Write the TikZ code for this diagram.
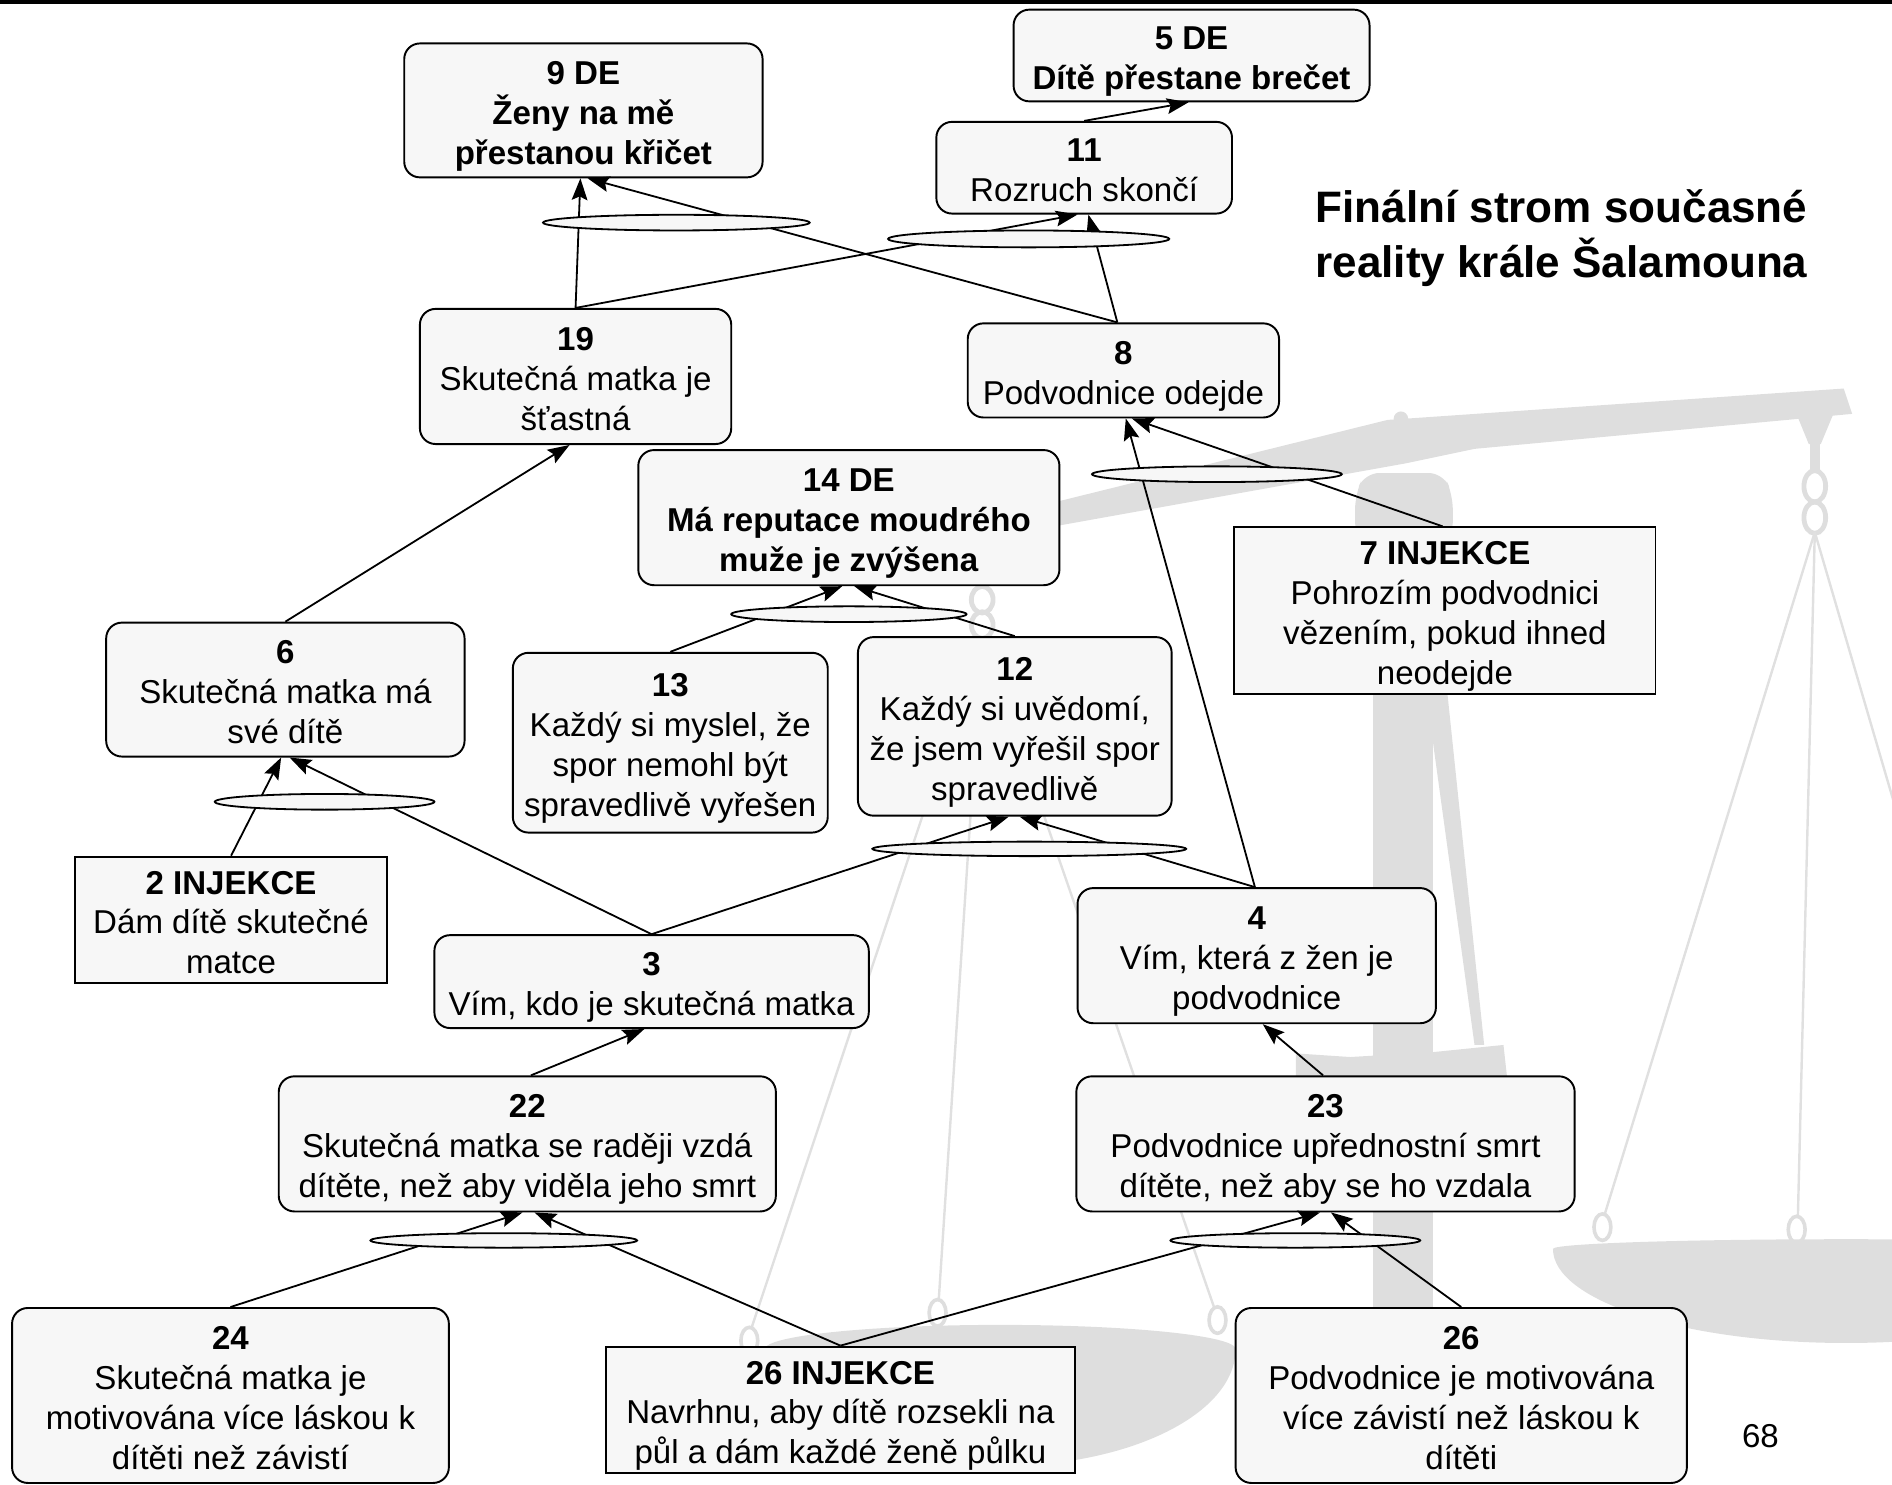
\documentclass[tikz,border=0pt]{standalone}
\usepackage{fontspec}
\setmainfont{Liberation Sans}
\usetikzlibrary{arrows.meta,calc,shapes.geometric}
\definecolor{boxfill}{HTML}{F7F7F7}
\definecolor{scalegray}{HTML}{DEDEDE}
\definecolor{cordgray}{HTML}{E0E0E0}
% struts that give every text block the same top and bottom extent
\newcommand{\ts}{\rule{0pt}{30pt}}
\newcommand{\boxbotstrut}{\rule[-7pt]{0pt}{7pt}}

\begin{document}
\begin{tikzpicture}[x=1pt,y=-1pt,
  every node/.style={font=\fontsize{27.4}{33}\selectfont, inner sep=0pt, align=center},
  boxtext/.style={execute at end node=\boxbotstrut},
  rbox/.style={boxtext, draw, line width=1.6pt, fill=boxfill, rounded corners=13pt},
  sbox/.style={boxtext, draw, line width=1.6pt, fill=boxfill},
  link/.style={line width=1.5pt, -{Stealth[length=18pt,width=13pt,inset=3pt]}},
  andring/.style={draw, line width=1.5pt, fill=boxfill, ellipse},
  cord/.style={draw=cordgray, line width=2pt},
  hook/.style={draw=scalegray, line width=4pt},
  titletext/.style={font=\fontsize{36.5}{46}\selectfont\bfseries, anchor=base west, align=left},
]
\useasboundingbox (0,0) rectangle (1568,1230);

% ---------- balance scale in the background ----------
\begin{scope}
\clip (0,0) rectangle (1568,1230);
% beam
\fill[scalegray] (800,436) -- (875,416) -- (1150,348) -- (1528,322) -- (1535,343)
  -- (1222,372) -- (1165,384) -- (875,436) -- (800,452) -- cycle;
\fill[scalegray] (1161,347) circle[radius=6pt];
% pillar with its cap
\fill[scalegray, rounded corners=12pt] (1123,445) -- (1123,410) -- (1131,392)
  -- (1196,392) -- (1204,410) -- (1204,445) -- cycle;
\fill[scalegray] (1138,430) rectangle (1188,1230);
% pointer and base plate
\fill[scalegray] (1180,560) -- (1198,560) -- (1230,866) -- (1222,866) -- cycle;
\fill[scalegray] (1074,873) -- (1119,876) -- (1187,872) -- (1246,866) -- (1249,893)
  -- (1074,893) -- cycle;
% left hanger
\draw[hook] (814,450) -- (814,486);
\draw[hook] (814,497) ellipse[x radius=9pt, y radius=11pt];
\draw[hook] (814,518) ellipse[x radius=9pt, y radius=11pt];
% right hanger
\fill[scalegray] (1490,346) -- (1519,344) -- (1509,368) -- (1499,368) -- cycle;
\fill[scalegray] (1500,366) rectangle (1508,390);
\draw[hook] (1504,403) ellipse[x radius=9pt, y radius=13pt];
\draw[hook] (1504,429) ellipse[x radius=9pt, y radius=13pt];
% strings of the left pan
\draw[cord] (814,528) -- (623,1100);
\draw[cord] (814,528) -- (778,1077);
\draw[cord] (814,528) -- (1006,1083);
% strings of the right pan
\draw[cord] (1504,441) -- (1330,1006);
\draw[cord] (1504,441) -- (1490,1008);
\draw[cord] (1504,441) -- (1672,1015);
% string eyes
\foreach \ex/\ey in {621/1111, 777/1088, 1009/1094, 1328/1017, 1489/1019}
  \draw[draw=scalegray, line width=3pt] (\ex,\ey) ellipse[x radius=7pt, y radius=11pt];
% pans
\fill[scalegray] (634,1118) arc[start angle=180, end angle=360, x radius=195pt, y radius=97pt]
  arc[start angle=0, end angle=180, x radius=195pt, y radius=20pt] -- cycle;
\fill[scalegray] (1287,1035) arc[start angle=180, end angle=360, x radius=243pt, y radius=78pt]
  arc[start angle=0, end angle=180, x radius=243pt, y radius=8pt] -- cycle;
\end{scope}

% top rule
\fill[black] (0,0) rectangle (1568,3.5);

% ---------- statements ----------
\node[rbox, minimum width=297pt, minimum height=111pt] (n9) at (483.5,91.5)
  {\ts\textbf{9 DE}\\\textbf{Ženy na mě}\\\textbf{přestanou křičet}};
\node[rbox, minimum width=295pt, minimum height=76pt] (n5) at (987.5,46)
  {\ts\textbf{5 DE}\\\textbf{Dítě přestane brečet}};
\node[rbox, minimum width=245pt, minimum height=76pt] (n11) at (898.5,139)
  {\ts\textbf{11}\\Rozruch skončí};
\node[rbox, minimum width=258pt, minimum height=112pt] (n19) at (477,312)
  {\ts\textbf{19}\\Skutečná matka je\\šťastná};
\node[rbox, minimum width=258pt, minimum height=78pt] (n8) at (931,307)
  {\ts\textbf{8}\\Podvodnice odejde};
\node[rbox, minimum width=349pt, minimum height=112pt] (n14) at (703.5,429)
  {\ts\textbf{14 DE}\\\textbf{Má reputace moudrého}\\\textbf{muže je zvýšena}};
\node[sbox, minimum width=349pt, minimum height=138pt] (n7) at (1197.5,506)
  {\ts\textbf{7 INJEKCE}\\Pohrozím podvodnici\\vězením, pokud ihned\\neodejde};
\node[rbox, minimum width=297pt, minimum height=111pt] (n6) at (236.5,571.5)
  {\ts\textbf{6}\\Skutečná matka má\\své dítě};
\node[rbox, minimum width=261pt, minimum height=149pt] (n13) at (555.5,615.5)
  {\ts\textbf{13}\\Každý si myslel, že\\spor nemohl být\\spravedlivě vyřešen};
\node[rbox, minimum width=260pt, minimum height=148pt] (n12) at (841,602)
  {\ts\textbf{12}\\Každý si uvědomí,\\že jsem vyřešil spor\\spravedlivě};
\node[sbox, minimum width=259pt, minimum height=105pt] (n2) at (191.5,762.5)
  {\ts\textbf{2 INJEKCE}\\Dám dítě skutečné\\matce};
\node[rbox, minimum width=360pt, minimum height=77pt] (n3) at (540,813.5)
  {\ts\textbf{3}\\Vím, kdo je skutečná matka};
\node[rbox, minimum width=297pt, minimum height=112pt] (n4) at (1041.5,792)
  {\ts\textbf{4}\\Vím, která z žen je\\podvodnice};
\node[rbox, minimum width=412pt, minimum height=112pt] (n22) at (437,948)
  {\ts\textbf{22}\\Skutečná matka se raději vzdá\\dítěte, než aby viděla jeho smrt};
\node[rbox, minimum width=413pt, minimum height=112pt] (n23) at (1098.5,948)
  {\ts\textbf{23}\\Podvodnice upřednostní smrt\\dítěte, než aby se ho vzdala};
\node[rbox, minimum width=362pt, minimum height=145pt] (n24) at (191,1156.5)
  {\ts\textbf{24}\\Skutečná matka je\\motivována více láskou k\\dítěti než závistí};
\node[sbox, minimum width=389pt, minimum height=105pt] (n26i) at (696.5,1168.5)
  {\ts\textbf{26 INJEKCE}\\Navrhnu, aby dítě rozsekli na\\půl a dám každé ženě půlku};
\node[rbox, minimum width=374pt, minimum height=145pt] (n26) at (1211,1156.5)
  {\ts\textbf{26}\\Podvodnice je motivována\\více závistí než láskou k\\dítěti};

% ---------- cause-effect arrows ----------
\draw[link] (n11.north) -- ($(n5.south)+(-2.5,0)$);
\draw[link] (n19.north) -- ($(n9.south)+(-2.5,0)$);
\draw[link] ($(n8.north)+(-5,0)$) -- ($(n9.south)+(3.5,0)$);
\draw[link] (n19.north) -- ($(n11.south)+(-5.5,0)$);
\draw[link] ($(n8.north)+(-5,0)$) -- ($(n11.south)+(3.5,0)$);
\draw[link] ($(n7.north)+(-2,0)$) -- ($(n8.south)+(7,0)$);
\draw[link] ($(n4.north)+(-1.5,0)$) -- ($(n8.south)+(2,0)$);
\draw[link] (n13.north) -- ($(n14.south)+(-5.5,0)$);
\draw[link] (n12.north) -- ($(n14.south)+(4.5,0)$);
\draw[link] (n2.north) -- ($(n6.south)+(-3.5,0)$);
\draw[link] (n3.north) -- ($(n6.south)+(3.5,0)$);
\draw[link] (n3.north) -- ($(n12.south)+(-5,0)$);
\draw[link] ($(n4.north)+(-1.5,0)$) -- ($(n12.south)+(4,0)$);
\draw[link] (n6.north) -- ($(n19.south)+(-5,0)$);
\draw[link] ($(n22.north)+(3,0)$) -- ($(n3.south)+(-6,0)$);
\draw[link] ($(n23.north)+(-2,0)$) -- ($(n4.south)+(5,0)$);
\draw[link] (n24.north) -- ($(n22.south)+(-4,0)$);
\draw[link] (n26i.north) -- ($(n22.south)+(6,0)$);
\draw[link] (n26i.north) -- ($(n23.south)+(-4.5,0)$);
\draw[link] (n26.north) -- ($(n23.south)+(4.5,0)$);

% ---------- AND connectors ----------
\node[andring, minimum width=221pt, minimum height=13pt] (a9) at (560.5,184.5) {};
\node[andring, minimum width=233pt, minimum height=14pt] (a11) at (852.5,198) {};
\node[andring, minimum width=207pt, minimum height=13pt] (a8) at (1008.5,393) {};
\node[andring, minimum width=195pt, minimum height=13pt] (a14) at (703.5,509) {};
\node[andring, minimum width=182pt, minimum height=13pt] (a6) at (269,664.5) {};
\node[andring, minimum width=260pt, minimum height=12pt] (a12) at (853,703.5) {};
\node[andring, minimum width=221pt, minimum height=12pt] (a22) at (417.5,1028) {};
\node[andring, minimum width=207pt, minimum height=12pt] (a23) at (1073.5,1028) {};

% ---------- title and page number ----------
\node[titletext] (t1) at (1090,184) {Finální strom současné};
\node[titletext] (t2) at (1090,230) {reality krále Šalamouna};
\node[anchor=base] (pg) at (1459,1200) {68};
\end{tikzpicture}
\end{document}
